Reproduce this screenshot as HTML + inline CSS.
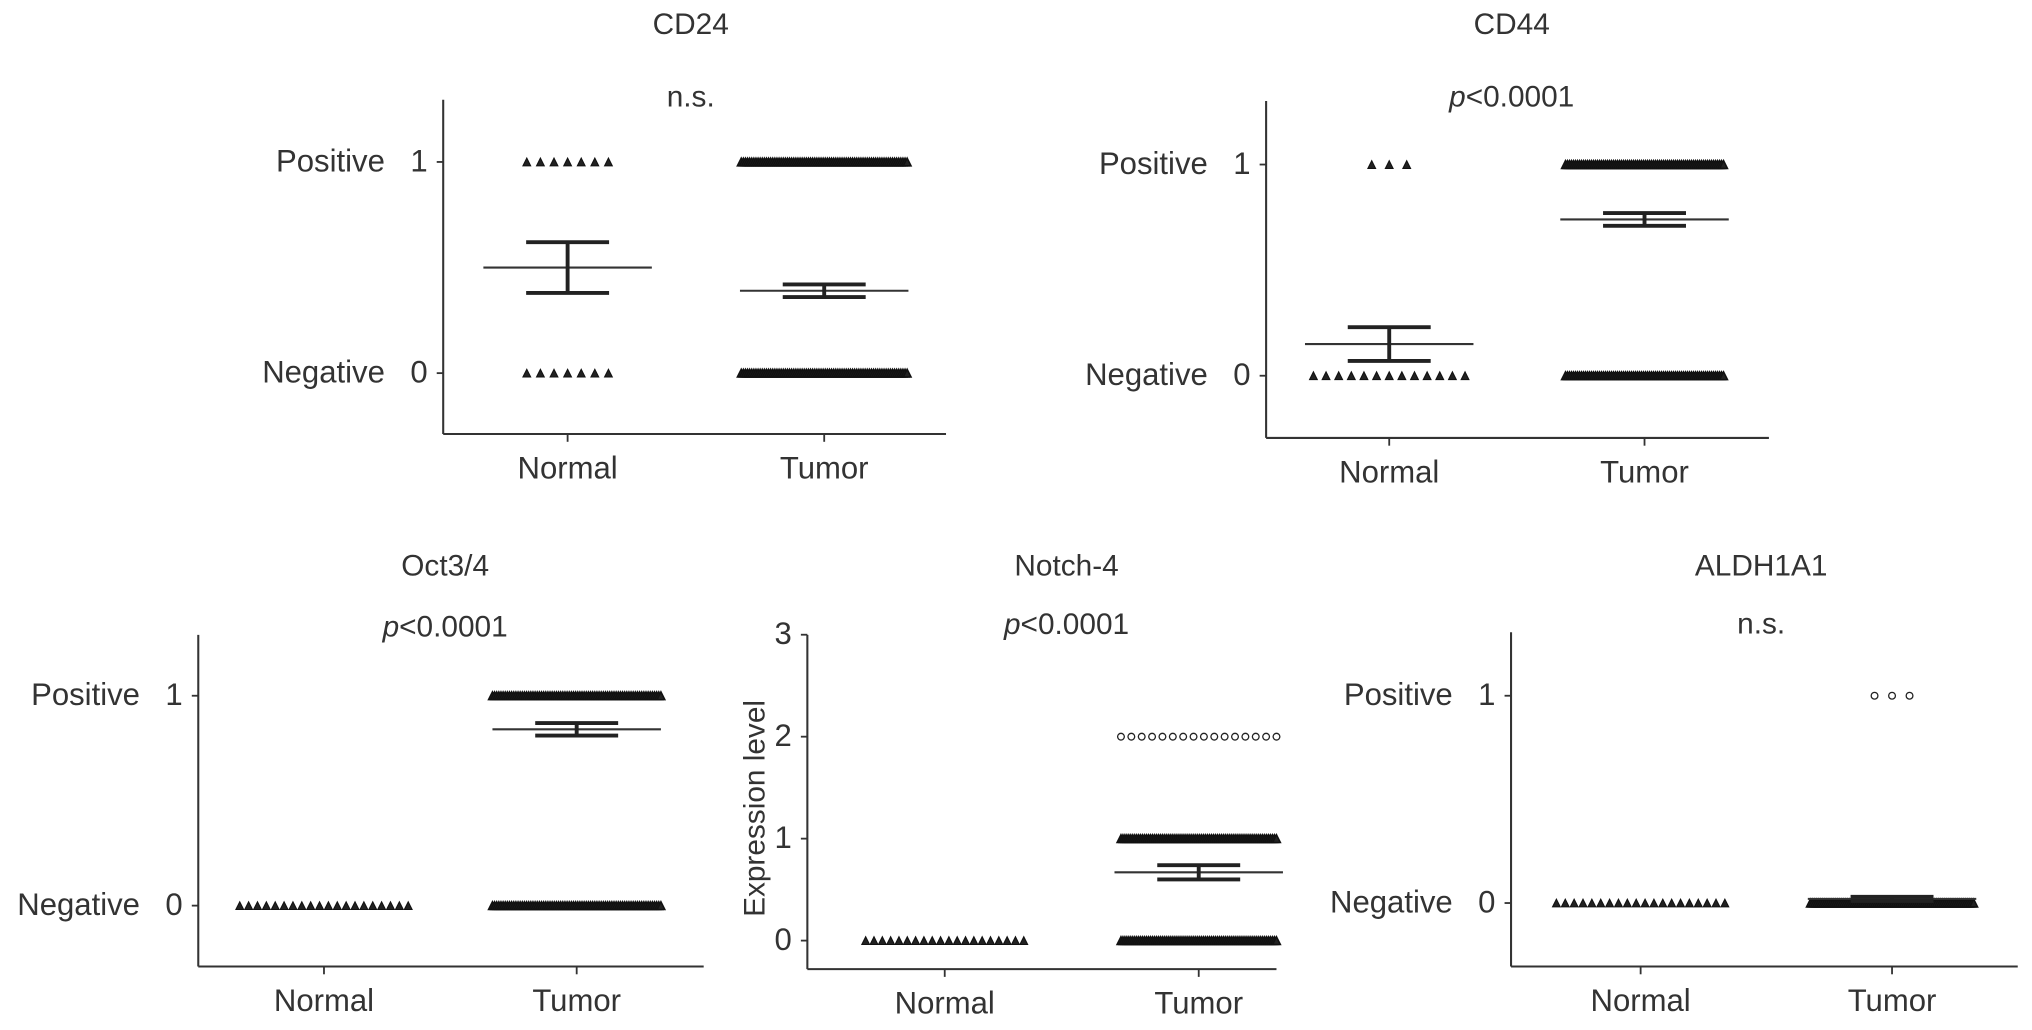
<!DOCTYPE html>
<html><head><meta charset="utf-8"><style>
html,body{margin:0;padding:0;background:#fff;}
svg{display:block;}
text{font-family:"Liberation Sans",sans-serif;fill:#333;white-space:pre;}
</style></head><body>
<svg id="fig" width="2032" height="1030" viewBox="0 0 1568 795" preserveAspectRatio="none" xmlns="http://www.w3.org/2000/svg"></svg>
<script>
// ---- data ----
const panelTitles = ["CD24","CD44","Oct3/4","Notch-4","ALDH1A1"];
const panelStats = ["n.s.","p<0.0001","p<0.0001","p<0.0001","n.s."];
const categories = ["Normal","Tumor"];
// point counts per value level [level0, level1, level2]
const normalCounts = [[7,7,0],[13,3,0],[20,0,0],[20,0,0],[20,0,0]];
const tumorCounts = [[80,80,0],[80,80,0],[80,80,0],[80,80,16],[80,3,0]];
const normalMeans = [0.5,0.15,0,0,0];
const normalSems = [0.12,0.08,0,0,0];
const tumorMeans = [0.39,0.74,0.84,0.67,0.02];
const tumorSems = [0.03,0.03,0.03,0.07,0.01];
const yTickLabels = [["Negative","Positive"],["Negative","Positive"],["Negative","Positive"],[],["Negative","Positive"]];
const yTickValues = [["0","1"],["0","1"],["0","1"],["0","1","2","3"],["0","1"]];
// ---- layout (not data) ----
const layouts = [
 {ax:342,top:77,bot:335,right:730,tx:[438,636],y0:288,y1:125,ty:20,sy:76,spread:[38,64]},
 {ax:977,top:78,bot:338,right:1365,tx:[1072,1269],y0:290,y1:127,ty:20,sy:76,spread:[64,61]},
 {ax:153,top:490,bot:746,right:543,tx:[250,445],y0:699,y1:537,ty:438,sy:485,spread:[65,65]},
 {ax:623,top:490,bot:748,right:985,tx:[729,925],y0:726,y1:647.3,ty:438,sy:483,spread:[61,60]},
 {ax:1166,top:488,bot:746,right:1557,tx:[1266,1460],y0:697,y1:537,ty:438,sy:483,spread:[65,63]}
];
const svg=document.getElementById('fig');
const NS="http://www.w3.org/2000/svg";
function mk(tag,attrs,parent){const e=document.createElementNS(NS,tag);for(const k in attrs)e.setAttribute(k,attrs[k]);(parent||svg).appendChild(e);return e;}
layouts.forEach((L,i)=>{
  const g=mk('g',{});
  
  
  const yScale=v=>L.y0+(L.y1-L.y0)*v;
  const t=mk('text',{x:(L.tx[0]+L.tx[1])/2-4,y:L.ty,'font-size':23,'text-anchor':'middle','dominant-baseline':'middle'},g);
  t.textContent=panelTitles[i];
  
  
  const s=mk('text',{x:(L.tx[0]+L.tx[1])/2-4,y:L.sy,'font-size':23,'text-anchor':'middle','dominant-baseline':'middle'},g);
  if(panelStats[i].startsWith('p')){const ts=mk('tspan',{'font-style':'italic'},s);ts.textContent='p';const r=mk('tspan',{},s);r.textContent=panelStats[i].slice(1);}
  else s.textContent=panelStats[i];
  
  
  const ya=mk('line',{x1:L.ax,y1:L.top,x2:L.ax,y2:L.bot,stroke:'#333','stroke-width':1.6},g);
  
  
  const xa=mk('line',{x1:L.ax,y1:L.bot,x2:L.right,y2:L.bot,stroke:'#333','stroke-width':1.6},g);
  
  
  yTickValues[i].forEach((val,v)=>{
    const y=yScale(v);
    mk('line',{x1:L.ax-5,y1:y,x2:L.ax,y2:y,stroke:'#333','stroke-width':1.4},g);
    const tl=mk('text',{x:L.ax-12,y:y+1,'font-size':24,'text-anchor':'end','dominant-baseline':'middle'},g);
    tl.textContent=val;
    
    
    if(yTickLabels[i][v]){
      const tn=mk('text',{x:L.ax-45,y:y+1,'font-size':24,'text-anchor':'end','dominant-baseline':'middle'},g);
      tn.textContent=yTickLabels[i][v];
      
      
    }
  });
  if(i===3){
    const yl=mk('text',{x:0,y:0,'font-size':23,'text-anchor':'middle',transform:`translate(590,${(L.top+L.bot)/2+5}) rotate(-90)`},g);
    yl.textContent='Expression level';
    
    
  }
  categories.forEach((c,k)=>{
    const x=L.tx[k];
    mk('line',{x1:x,y1:L.bot,x2:x,y2:L.bot+6,stroke:'#333','stroke-width':1.4},g);
    const xl=mk('text',{x:x,y:L.bot+28,'font-size':24,'text-anchor':'middle','dominant-baseline':'middle'},g);
    xl.textContent=c;
    
    
    const counts=(k===0?normalCounts:tumorCounts)[i];
    counts.forEach((n,v)=>{
      if(!n)return;
      const y=yScale(v);
      const half = n<=20 ? Math.min(L.spread[k],n*4.5) : L.spread[k];
      for(let p=0;p<n;p++){
        const px = n===1?x:x-half+2*half*p/(n-1);
        let m;
        if(v===2||(i===4&&v===1)){
          m=mk('circle',{cx:px,cy:y,r:2.6,fill:'#fff',stroke:'#222','stroke-width':1},g);
        } else {
          m=mk('path',{d:`M${px-3},${y+3}L${px},${y-3}L${px+3},${y+3}Z`,fill:'#222',stroke:'#111','stroke-width':n>30?1.2:0.8},g);
        }
        
        
      }
    });
    const mean=(k===0?normalMeans:tumorMeans)[i], sem=(k===0?normalSems:tumorSems)[i];
    if(k===0 && sem===0) return;
    const ym=yScale(mean), yh=yScale(mean+sem), ylo=yScale(mean-sem);
    const ml=mk('line',{x1:x-65,y1:ym,x2:x+65,y2:ym,stroke:'#333','stroke-width':1.6},g);
    
    
    const eb=mk('path',{d:`M${x},${yh}L${x},${ylo}M${x-32},${yh}L${x+32},${yh}M${x-32},${ylo}L${x+32},${ylo}`,stroke:'#222','stroke-width':3,fill:'none'},g);
    
    
  });
});
</script>
</body></html>
